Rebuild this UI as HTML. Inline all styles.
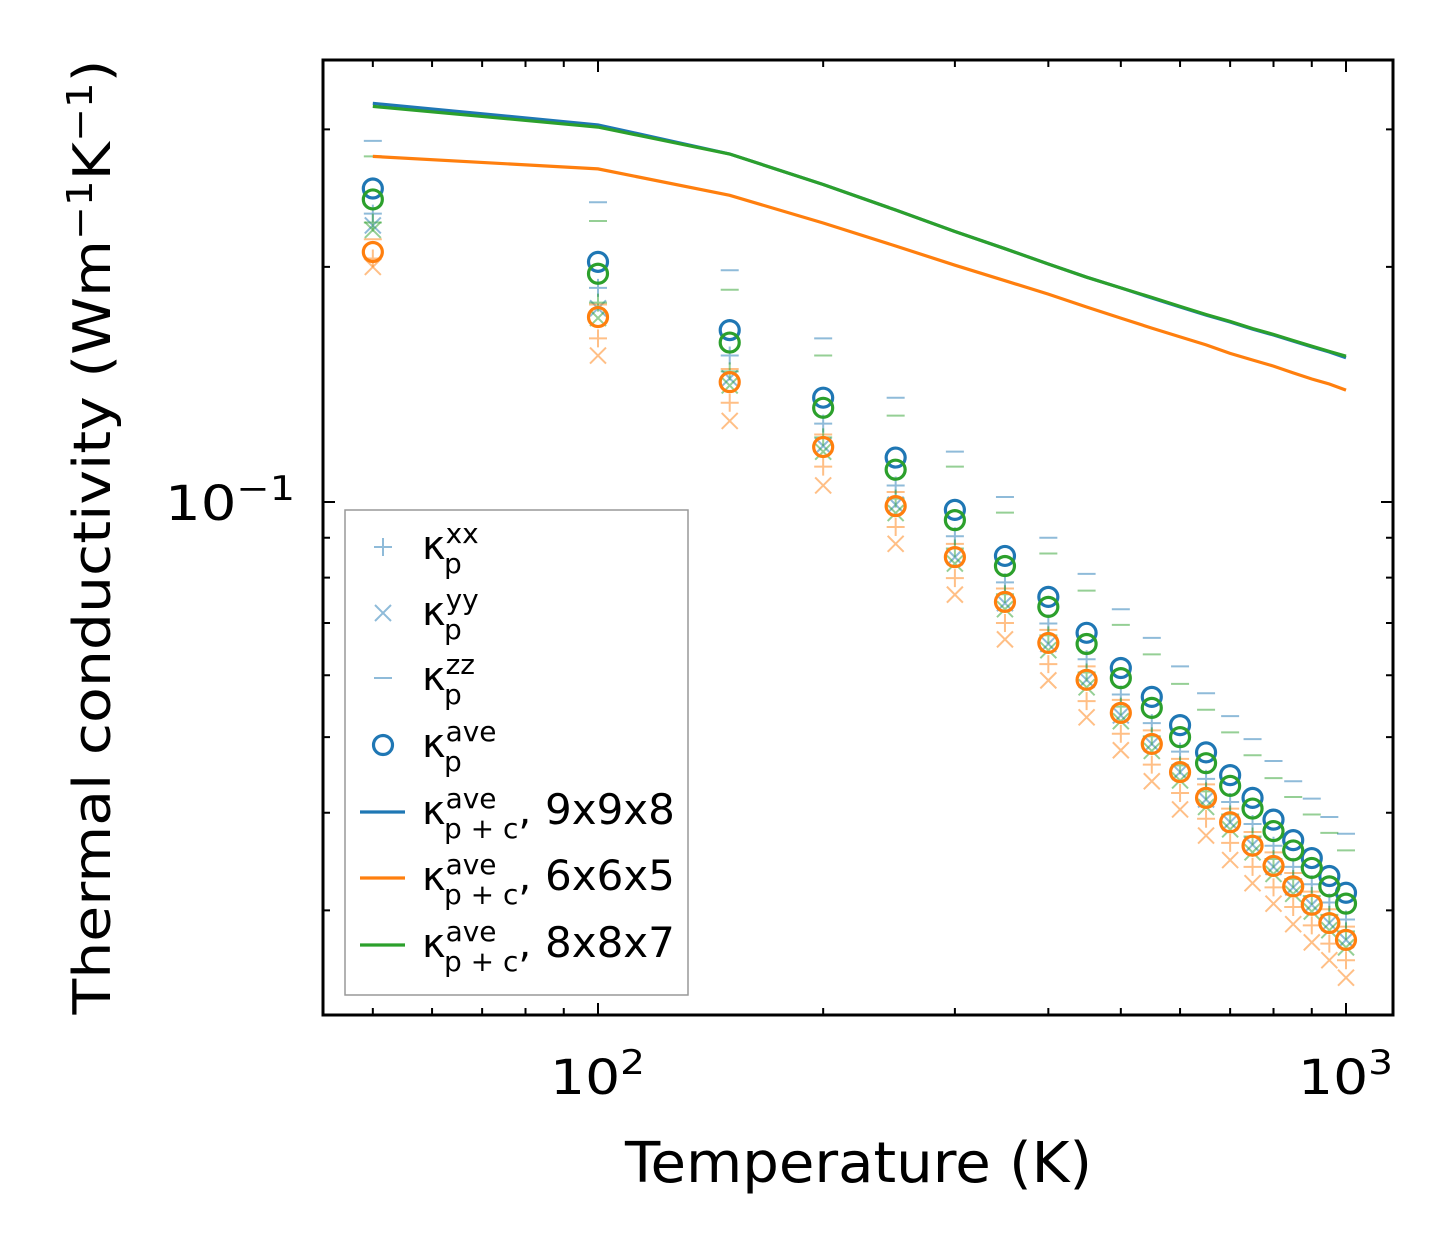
<!DOCTYPE html>
<html><head><meta charset="utf-8"><style>
body{margin:0;background:#fff}
svg{display:block;font-family:"DejaVu Sans","Liberation Sans",sans-serif}
</style></head><body>
<svg id="chart" width="1454" height="1254" viewBox="0 0 1454 1254" xmlns="http://www.w3.org/2000/svg">
<rect width="1454" height="1254" fill="#fff"/>
<g id="marks"></g>
<g id="ticks"></g>
<rect x="323" y="60" width="1070" height="955" fill="none" stroke="#000" stroke-width="3"/>
<text x="550" y="1094" font-size="48" textLength="95" lengthAdjust="spacingAndGlyphs">10<tspan dy="-20" font-size="34">2</tspan></text>
<text x="1298" y="1094" font-size="48" textLength="95" lengthAdjust="spacingAndGlyphs">10<tspan dy="-20" font-size="34">3</tspan></text>
<text x="165" y="520" font-size="48" textLength="130" lengthAdjust="spacingAndGlyphs">10<tspan dy="-20" font-size="34">−1</tspan></text>
<text x="625" y="1182" font-size="56" textLength="467" lengthAdjust="spacingAndGlyphs">Temperature (K)</text>
<text transform="translate(110,537) rotate(-90)" font-size="52" text-anchor="middle" textLength="955" lengthAdjust="spacingAndGlyphs">Thermal conductivity (Wm<tspan dy="-18" font-size="36">−1</tspan><tspan dy="18">K</tspan><tspan dy="-18" font-size="36">−1</tspan><tspan dy="18">)</tspan></text>
<g id="legend">
<rect x="345" y="510" width="343" height="485" fill="#fff" fill-opacity="0.8" stroke="#999" stroke-width="1.5"/>
</g>
</svg>
<script>
const temps=[50,100,150,200,250,300,350,400,450,500,550,600,650,700,750,800,850,900,950,1000];
const blueAve=[.252,.203,.166,.136,.114,.0977,.0853,.0756,.0680,.0613,.0563,.0518,.0478,.0447,.0418,.0392,.0369,.0350,.0332,.0316];
const blueZZ=[.290,.242,.198,.162,.136,.116,.1015,.090,.0809,.0729,.0670,.0616,.0569,.0532,.0497,.0466,.0439,.0417,.0395,.0376];
const blueXX=[.234,.188,.154,.126,.105,.0904,.0789,.0699,.0629,.0567,.0521,.0479,.0442,.0413,.0387,.0363,.0341,.0324,.0307,.0292];
const blueYY=[.226,.177,.144,.118,.0992,.0850,.0742,.0658,.0592,.0533,.0490,.0451,.0416,.0389,.0364,.0341,.0321,.0305,.0289,.0275];
const greenAve=[.244,.196,.160,.132,.110,.0948,.0828,.0734,.0658,.0595,.0545,.0500,.0463,.0433,.0405,.0379,.0358,.0340,.0322,.0306];
const greenZZ=[.277,.229,.187,.154,.129,.111,.0969,.0859,.0770,.0696,.0638,.0585,.0542,.0507,.0474,.0443,.0419,.0398,.0377,.0358];
const greenXX=[.228,.180,.147,.121,.101,.0872,.0762,.0675,.0605,.0547,.0501,.0460,.0426,.0398,.0373,.0349,.0329,.0313,.0296,.0282];
const greenYY=[.223,.172,.141,.116,.0968,.0834,.0729,.0646,.0579,.0524,.0480,.0440,.0407,.0381,.0356,.0334,.0315,.0299,.0283,.0269];
const orangeAve=[.209,.1725,.1424,.1176,.0988,.0850,.0745,.0660,.0592,.0537,.0490,.0451,.0418,.0389,.0363,.0342,.0322,.0305,.0289,.0275];
const orangeZZ=[.217,.179,.148,.122,.103,.0884,.0775,.0686,.0616,.0558,.0510,.0469,.0435,.0405,.0378,.0356,.0335,.0317,.0301,.0286];
const orangeXX=[.205,.162,.134,.111,.0929,.0799,.0700,.0620,.0556,.0505,.0461,.0424,.0393,.0366,.0341,.0321,.0303,.0287,.0272,.0259];
const orangeYY=[.200,.154,.127,.105,.0884,.0761,.0667,.0591,.0530,.0481,.0439,.0404,.0374,.0348,.0325,.0306,.0288,.0273,.0259,.0246];
const blueLine=[.324,.304,.279,.255,.2365,.222,.211,.2017,.194,.188,.1825,.1777,.1735,.170,.1665,.1636,.1607,.158,.1556,.153];
const greenLine=[.321,.302,.279,.255,.2365,.222,.211,.2017,.194,.188,.1828,.178,.1738,.1703,.1668,.1639,.161,.1583,.1559,.1537];
const orangeLine=[.277,.267,.247,.2276,.2127,.201,.192,.1846,.1777,.172,.167,.1627,.1589,.155,.152,.1493,.1463,.1437,.1416,.1391];
const xMajor=[100,1000];
const xMinor=[50,60,70,80,90,200,300,400,500,600,700,800,900];
const yMajor=[0.1];
const yMinor=[0.03,0.04,0.05,0.06,0.07,0.08,0.09,0.2,0.3];
const legendLabels=["xx","yy","zz","ave"];
const NS="http://www.w3.org/2000/svg";
const BLUE="#1f77b4",ORANGE="#ff7f0e",GREEN="#2ca02c";
const X=t=>598+748*Math.log10(t/100);
const Y=v=>502-781*Math.log10(v/0.1);
function mk(tag,attrs,parent){const e=document.createElementNS(NS,tag);for(const k in attrs)e.setAttribute(k,attrs[k]);parent.appendChild(e);return e;}
const marks=document.getElementById('marks');
const ticks=document.getElementById('ticks');
const legend=document.getElementById('legend');
function plus(cx,cy,c,p,s){return mk('path',{d:`M${cx-s},${cy}H${cx+s}M${cx},${cy-s}V${cy+s}`,stroke:c,'stroke-width':2,'stroke-opacity':0.5,fill:'none'},p);}
function cross(cx,cy,c,p,s){return mk('path',{d:`M${cx-s},${cy-s}L${cx+s},${cy+s}M${cx-s},${cy+s}L${cx+s},${cy-s}`,stroke:c,'stroke-width':2,'stroke-opacity':0.5,fill:'none'},p);}
function dash(cx,cy,c,p,s){return mk('path',{d:`M${cx-s},${cy}H${cx+s}`,stroke:c,'stroke-width':2,'stroke-opacity':0.5,fill:'none'},p);}
function circ(cx,cy,c,p,r){return mk('circle',{cx:cx,cy:cy,r:r,stroke:c,'stroke-width':3.2,fill:'none'},p);}
const sets=[
 {name:'blue',c:BLUE,xx:blueXX,yy:blueYY,zz:blueZZ,ave:blueAve},
 {name:'orange',c:ORANGE,xx:orangeXX,yy:orangeYY,zz:orangeZZ,ave:orangeAve},
 {name:'green',c:GREEN,xx:greenXX,yy:greenYY,zz:greenZZ,ave:greenAve}
];
const lines=[{name:'9x9x8',c:BLUE,v:blueLine},{name:'6x6x5',c:ORANGE,v:orangeLine},{name:'8x8x7',c:GREEN,v:greenLine}];
sets.forEach(s=>{
  temps.forEach((t,i)=>{
    let e=plus(X(t),Y(s.xx[i]),s.c,marks,9);
    
    
    e=cross(X(t),Y(s.yy[i]),s.c,marks,8);
    
    
    e=dash(X(t),Y(s.zz[i]),s.c,marks,9);
    
    
  });
});
lines.forEach(l=>{
  const d=temps.map((t,i)=>(i?'L':'M')+X(t).toFixed(1)+','+Y(l.v[i]).toFixed(1)).join('');
  const e=mk('path',{d:d,stroke:l.c,'stroke-width':3.2,fill:'none'},marks);
  
  
});
sets.forEach(s=>{
  temps.forEach((t,i)=>{
    const e=circ(X(t),Y(s.ave[i]),s.c,marks,9.5);
    
    
  });
});
function tick(d,n){const e=mk('path',{d:d,stroke:'#000','stroke-width':2,fill:'none'},ticks);}
xMajor.forEach(t=>{const x=X(t);tick(`M${x},1015V1003M${x},60V72`,'x-major-tick');});
xMinor.forEach(t=>{const x=X(t);tick(`M${x},1015V1008M${x},60V67`,'x-minor-tick');});
yMajor.forEach(v=>{const y=Y(v);tick(`M323,${y}H335M1393,${y}H1381`,'y-major-tick');});
yMinor.forEach(v=>{const y=Y(v);tick(`M323,${y}H330M1393,${y}H1386`,'y-minor-tick');});
const ly=[547,613,678,745,812,878,945];
let e;
e=plus(383,ly[0],BLUE,legend,9);
e=cross(383,ly[1],BLUE,legend,8);
e=dash(383,ly[2],BLUE,legend,9);
e=circ(383,ly[3],BLUE,legend,9.5);
legendLabels.forEach((lab,i)=>{
  const y=ly[i];
  const t=mk('text',{x:422,y:y+12,'font-size':40},legend);
  t.innerHTML=`κ<tspan font-size="28" dy="-16">${lab}</tspan><tspan font-size="28" x="444" dy="30">p</tspan>`;
  
  
});
lines.forEach((l,i)=>{
  const y=ly[4+i];
  const m=mk('path',{d:`M360,${y}H405`,stroke:l.c,'stroke-width':3.2},legend);
  
  
  const t=mk('text',{x:422,y:y+12,'font-size':40},legend);
  t.innerHTML=`κ<tspan font-size="28" dy="-16">ave</tspan><tspan font-size="28" x="444" dy="30">p + c</tspan><tspan dy="-14" font-size="40">, </tspan><tspan x="545" font-size="42">${l.name}</tspan>`;
  
  
});
</script>
</body></html>
